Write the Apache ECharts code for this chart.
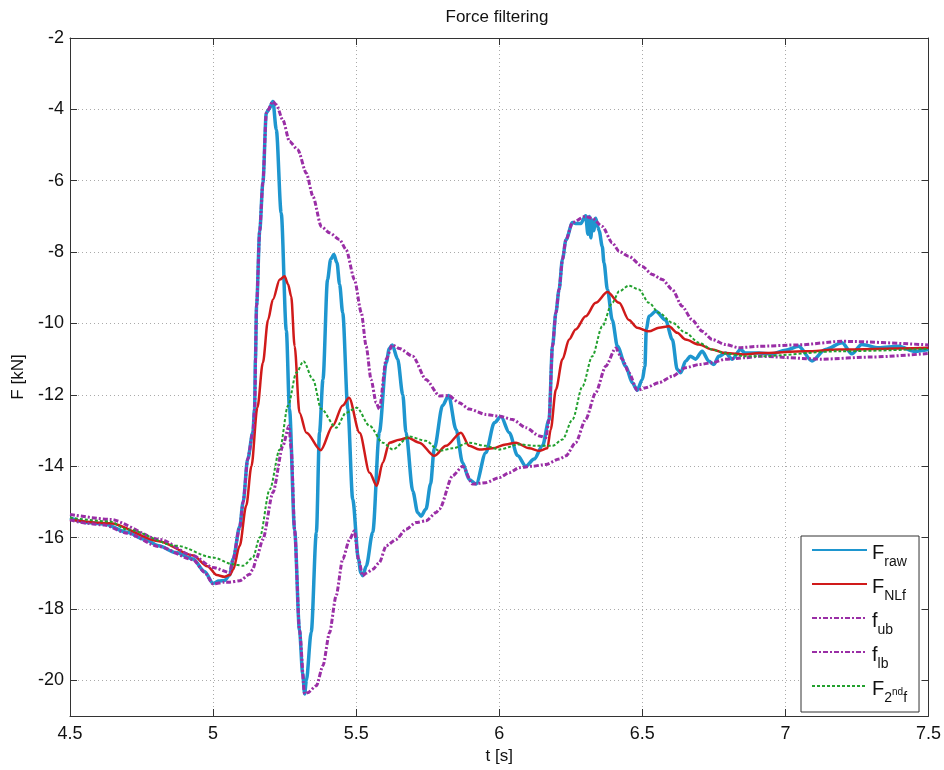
<!DOCTYPE html>
<html><head><meta charset="utf-8">
<script src="https://cdn.jsdelivr.net/npm/echarts@6/dist/echarts.min.js"></script>
<style>html,body{margin:0;padding:0;background:#fff}#c{width:944px;height:770px}</style>
</head><body><div id="c"></div>
<script>
var xTicks = [4.5, 5, 5.5, 6, 6.5, 7, 7.5];
var yTicks = [-20, -18, -16, -14, -12, -10, -8, -6, -4, -2];

var fRaw = [[4.50,-15.45],[4.56,-15.58],[4.62,-15.62],[4.70,-15.85],[4.76,-16.05],[4.81,-16.23],[4.87,-16.42],[4.93,-16.6],[4.97,-16.95],[5.00,-17.28],[5.02,-17.22],[5.04,-17.2],[5.058,-17.05],[5.07,-16.6],[5.093,-15.7],[5.105,-15.0],[5.121,-13.8],[5.139,-13.05],[5.145,-12.4],[5.148,-11.0],[5.152,-9.5],[5.163,-7.4],[5.174,-6.06],[5.186,-4.1],[5.195,-4.0],[5.209,-3.78],[5.221,-4.57],[5.238,-6.9],[5.256,-10.2],[5.267,-12.4],[5.285,-15.8],[5.302,-18.6],[5.313,-19.8],[5.320,-20.38],[5.326,-20.0],[5.343,-18.65],[5.361,-15.85],[5.372,-13.05],[5.384,-11.57],[5.400,-8.77],[5.411,-8.2],[5.422,-8.07],[5.433,-8.3],[5.442,-8.9],[5.453,-9.7],[5.471,-12.4],[5.488,-14.93],[5.508,-16.6],[5.516,-16.98],[5.523,-17.07],[5.535,-16.8],[5.558,-15.85],[5.581,-13.05],[5.605,-11.1],[5.616,-10.7],[5.626,-10.6],[5.645,-11.0],[5.663,-12.0],[5.674,-13.05],[5.698,-14.7],[5.715,-15.3],[5.727,-15.4],[5.744,-15.2],[5.760,-14.5],[5.773,-13.5],[5.802,-12.3],[5.823,-12.02],[5.849,-12.97],[5.872,-13.9],[5.895,-14.37],[5.919,-14.5],[5.953,-13.62],[5.983,-12.78],[6.006,-12.61],[6.035,-13.06],[6.064,-13.7],[6.093,-14.0],[6.122,-13.8],[6.151,-13.43],[6.174,-12.7],[6.186,-10.64],[6.198,-9.7],[6.209,-9.05],[6.221,-8.2],[6.233,-7.66],[6.256,-7.17],[6.270,-7.2],[6.285,-7.2],[6.302,-6.98],[6.310,-7.5],[6.315,-7.0],[6.320,-7.6],[6.325,-7.1],[6.330,-7.4],[6.337,-7.05],[6.345,-7.3],[6.349,-7.4],[6.360,-7.84],[6.366,-8.3],[6.378,-9.05],[6.395,-9.9],[6.413,-10.64],[6.442,-11.2],[6.465,-11.66],[6.482,-11.87],[6.500,-11.57],[6.509,-11.2],[6.514,-10.17],[6.523,-9.8],[6.547,-9.66],[6.581,-9.9],[6.605,-10.45],[6.622,-11.29],[6.634,-11.38],[6.651,-11.06],[6.668,-10.92],[6.686,-11.0],[6.709,-10.78],[6.733,-11.06],[6.750,-11.15],[6.767,-10.92],[6.791,-10.83],[6.814,-11.0],[6.843,-10.73],[6.860,-10.83],[6.907,-10.83],[6.952,-10.85],[7.000,-10.75],[7.046,-10.64],[7.093,-11.05],[7.140,-10.73],[7.198,-10.54],[7.232,-10.85],[7.267,-10.59],[7.326,-10.68],[7.395,-10.64],[7.453,-10.78],[7.500,-10.73]];

var fNLf = [[4.50,-15.5],[4.64,-15.6],[4.81,-16.1],[4.93,-16.5],[4.98,-16.8],[5.013,-17.05],[5.04,-17.1],[5.058,-17.05],[5.07,-16.9],[5.093,-16.23],[5.116,-15.1],[5.134,-14.0],[5.155,-12.35],[5.174,-11.1],[5.192,-9.9],[5.209,-9.33],[5.233,-8.77],[5.250,-8.68],[5.262,-8.9],[5.273,-9.24],[5.285,-10.64],[5.302,-12.5],[5.326,-13.06],[5.376,-13.55],[5.418,-12.87],[5.453,-12.3],[5.475,-12.08],[5.512,-13.06],[5.547,-14.18],[5.572,-14.55],[5.593,-13.9],[5.616,-13.34],[5.651,-13.26],[5.680,-13.2],[5.721,-13.34],[5.773,-13.71],[5.814,-13.43],[5.866,-13.06],[5.895,-13.43],[5.930,-13.53],[5.977,-13.5],[6.023,-13.39],[6.058,-13.34],[6.105,-13.5],[6.140,-13.57],[6.168,-13.5],[6.180,-12.97],[6.198,-11.85],[6.221,-11.0],[6.244,-10.45],[6.267,-10.17],[6.302,-9.8],[6.337,-9.42],[6.378,-9.12],[6.419,-9.42],[6.453,-9.9],[6.482,-10.12],[6.523,-10.22],[6.558,-10.12],[6.593,-10.08],[6.622,-10.26],[6.651,-10.45],[6.698,-10.59],[6.744,-10.73],[6.791,-10.83],[6.860,-10.87],[6.907,-10.83],[7.070,-10.78],[7.186,-10.73],[7.500,-10.68]];

var fUb = [[4.50,-15.35],[4.64,-15.49],[4.814,-16.05],[4.93,-16.51],[5.00,-16.84],[5.058,-16.98],[5.07,-16.6],[5.093,-15.7],[5.105,-15.0],[5.121,-13.8],[5.139,-13.05],[5.145,-12.4],[5.152,-9.5],[5.163,-7.4],[5.174,-6.06],[5.186,-4.1],[5.209,-3.78],[5.221,-3.87],[5.244,-4.3],[5.267,-4.9],[5.296,-5.13],[5.326,-5.79],[5.349,-6.44],[5.378,-7.28],[5.407,-7.46],[5.442,-7.65],[5.465,-7.93],[5.494,-8.77],[5.518,-9.7],[5.535,-10.64],[5.552,-11.57],[5.570,-12.22],[5.581,-12.4],[5.605,-11.0],[5.626,-10.6],[5.651,-10.7],[5.698,-10.92],[5.744,-11.57],[5.791,-12.03],[5.823,-12.02],[5.860,-12.22],[5.895,-12.4],[5.953,-12.55],[6.000,-12.6],[6.046,-12.69],[6.093,-12.92],[6.140,-13.15],[6.163,-13.2],[6.174,-12.7],[6.186,-10.64],[6.198,-9.7],[6.209,-9.05],[6.221,-8.2],[6.233,-7.66],[6.256,-7.17],[6.300,-7.0],[6.325,-7.05],[6.360,-7.28],[6.395,-7.74],[6.419,-7.98],[6.453,-8.12],[6.500,-8.4],[6.535,-8.63],[6.570,-8.77],[6.605,-9.05],[6.639,-9.52],[6.674,-9.9],[6.709,-10.22],[6.744,-10.45],[6.791,-10.59],[6.837,-10.68],[6.907,-10.64],[7.046,-10.6],[7.198,-10.5],[7.500,-10.6]];

var fLb = [[4.50,-15.5],[4.56,-15.6],[4.62,-15.65],[4.70,-15.88],[4.81,-16.25],[4.93,-16.62],[4.97,-16.97],[5.00,-17.3],[5.04,-17.25],[5.058,-17.25],[5.093,-17.21],[5.128,-17.03],[5.139,-16.89],[5.151,-16.6],[5.174,-16.05],[5.209,-14.74],[5.244,-13.43],[5.265,-12.87],[5.273,-13.5],[5.285,-15.8],[5.302,-18.6],[5.320,-20.38],[5.330,-20.35],[5.361,-20.15],[5.384,-19.59],[5.407,-18.66],[5.430,-17.63],[5.453,-16.6],[5.477,-16.05],[5.494,-15.81],[5.508,-16.6],[5.523,-17.07],[5.535,-17.0],[5.558,-16.89],[5.581,-16.7],[5.605,-16.23],[5.640,-16.05],[5.674,-15.77],[5.709,-15.58],[5.744,-15.53],[5.779,-15.3],[5.791,-15.2],[5.837,-14.27],[5.872,-14.0],[5.907,-14.5],[5.953,-14.46],[6.000,-14.32],[6.035,-14.18],[6.070,-14.04],[6.116,-14.0],[6.163,-13.95],[6.209,-13.8],[6.233,-13.71],[6.267,-13.34],[6.302,-12.69],[6.337,-11.94],[6.372,-11.2],[6.407,-10.69],[6.430,-11.0],[6.453,-11.38],[6.482,-11.87],[6.512,-11.8],[6.558,-11.66],[6.605,-11.48],[6.651,-11.24],[6.698,-11.15],[6.744,-11.1],[6.791,-11.0],[6.860,-10.96],[6.907,-10.92],[7.127,-11.0],[7.301,-10.94],[7.500,-10.84]];

var f2nd = [[4.50,-15.44],[4.64,-15.55],[4.698,-15.77],[4.872,-16.23],[5.000,-16.56],[5.070,-16.75],[5.105,-16.79],[5.139,-16.56],[5.163,-16.0],[5.198,-14.65],[5.233,-13.53],[5.262,-12.3],[5.291,-11.38],[5.316,-11.06],[5.349,-11.57],[5.378,-12.4],[5.430,-12.92],[5.465,-12.5],[5.502,-12.36],[5.547,-12.87],[5.593,-13.34],[5.628,-13.53],[5.686,-13.17],[5.744,-13.29],[5.791,-13.57],[5.837,-13.5],[5.895,-13.34],[5.953,-13.43],[6.000,-13.53],[6.070,-13.39],[6.128,-13.43],[6.186,-13.43],[6.221,-13.25],[6.256,-12.69],[6.291,-11.76],[6.325,-10.92],[6.360,-10.08],[6.395,-9.42],[6.419,-9.1],[6.453,-8.94],[6.488,-9.05],[6.523,-9.42],[6.558,-9.7],[6.605,-9.98],[6.651,-10.26],[6.698,-10.54],[6.744,-10.73],[6.791,-10.84],[6.860,-10.92],[6.907,-10.92],[7.186,-10.78],[7.500,-10.71]];

var FONT = 'Liberation Sans';
var chart = echarts.init(document.getElementById('c'), null, {renderer: 'canvas'});

var legendLabels = {
  'F_raw': '{m|F}{s|raw}',
  'F_NLf': '{m|F}{s|NLf}',
  'f_ub': '{m|f}{s|ub}',
  'f_lb': '{m|f}{s|lb}',
  'F_2ndf': '{m|F}{s|2}{p|nd}{s|f}'
};

function axisCommon(extra) {
  return Object.assign({
    axisLine: {show: true, onZero: false, lineStyle: {color: '#333', width: 1}},
    axisTick: {show: true, inside: true, length: 7, lineStyle: {color: '#333'}},
    splitLine: {show: false}
  }, extra);
}

var option = {
  backgroundColor: '#fff',
  animation: false,
  title: {
    text: 'Force filtering', left: 492, top: 4, textAlign: 'center',
    textStyle: {fontFamily: FONT, fontSize: 17, fontWeight: 'normal', color: '#111'}
  },
  grid: {left: 70, right: 15, top: 38, bottom: 54, containLabel: false},
  legend: {
    orient: 'vertical', left: 801, top: 536,
    itemWidth: 55, itemHeight: 14, itemGap: 8,
    padding: [7, 12, 7, 10],
    backgroundColor: '#fff', borderColor: '#333', borderWidth: 1,
    itemStyle: {opacity: 0},
    data: ['F_raw', 'F_NLf', 'f_ub', 'f_lb', 'F_2ndf'],
    formatter: function (n) { return legendLabels[n]; },
    textStyle: {
      fontFamily: FONT, color: '#111',
      rich: {
        m: {fontFamily: FONT, fontSize: 20, color: '#111', verticalAlign: 'bottom', lineHeight: 26},
        s: {fontFamily: FONT, fontSize: 14, color: '#111', verticalAlign: 'bottom', padding: [0, 0, -6, 0], lineHeight: 26},
        p: {fontFamily: FONT, fontSize: 10, color: '#111', verticalAlign: 'bottom', padding: [0, 0, 2, 0], lineHeight: 26}
      }
    }
  },
  xAxis: [
    axisCommon({
      type: 'value', min: 4.5, max: 7.5, interval: 0.5, position: 'bottom',
      name: 't [s]', nameLocation: 'middle', nameGap: 28,
      nameTextStyle: {fontFamily: FONT, fontSize: 17, color: '#111'},
      axisLabel: {fontFamily: FONT, fontSize: 18, color: '#111', margin: 9},
      splitLine: {show: true, lineStyle: {color: '#aaa', type: [1, 3], width: 1}}
    }),
    axisCommon({
      type: 'value', min: 4.5, max: 7.5, interval: 0.5, position: 'top',
      axisLabel: {show: false}
    })
  ],
  yAxis: [
    axisCommon({
      type: 'value', min: -21, max: -2, position: 'left',
      name: 'F [kN]', nameLocation: 'middle', nameGap: 43, nameRotate: 90,
      nameTextStyle: {fontFamily: FONT, fontSize: 17, color: '#111'},
      axisLabel: {fontFamily: FONT, fontSize: 18, color: '#111', margin: 6, customValues: yTicks},
      axisTick: {show: true, inside: true, length: 7, lineStyle: {color: '#333'}, customValues: yTicks},
      splitLine: {show: true, lineStyle: {color: '#aaa', type: [1, 3], width: 1}}
    }),
    axisCommon({
      type: 'value', min: -21, max: -2, position: 'right',
      axisLabel: {show: false, customValues: yTicks},
      axisTick: {show: true, inside: true, length: 7, lineStyle: {color: '#333'}, customValues: yTicks}
    })
  ],
  series: [
    {name: 'F_raw', type: 'line', data: fRaw, symbol: 'none', smooth: 0.3, smoothMonotone: 'x',
     lineStyle: {color: '#1e96cf', width: 3.5}, itemStyle: {color: '#1e96cf'}},
    {name: 'F_NLf', type: 'line', data: fNLf, symbol: 'none', smooth: 0.3, smoothMonotone: 'x',
     lineStyle: {color: '#d01a1a', width: 2.5}, itemStyle: {color: '#d01a1a'}},
    {name: 'f_ub', type: 'line', data: fUb, symbol: 'none', smooth: 0.25, smoothMonotone: 'x',
     lineStyle: {color: '#9a2ea6', width: 3, type: [5, 2, 2, 2]}, itemStyle: {color: '#9a2ea6'}},
    {name: 'f_lb', type: 'line', data: fLb, symbol: 'none', smooth: 0.25, smoothMonotone: 'x',
     lineStyle: {color: '#9a2ea6', width: 3, type: [5, 2, 2, 2]}, itemStyle: {color: '#9a2ea6'}},
    {name: 'F_2ndf', type: 'line', data: f2nd, symbol: 'none', smooth: 0.3, smoothMonotone: 'x',
     lineStyle: {color: '#22a02e', width: 2, type: [3, 2]}, itemStyle: {color: '#22a02e'}}
  ]
};
chart.setOption(option);
</script>
</body></html>
